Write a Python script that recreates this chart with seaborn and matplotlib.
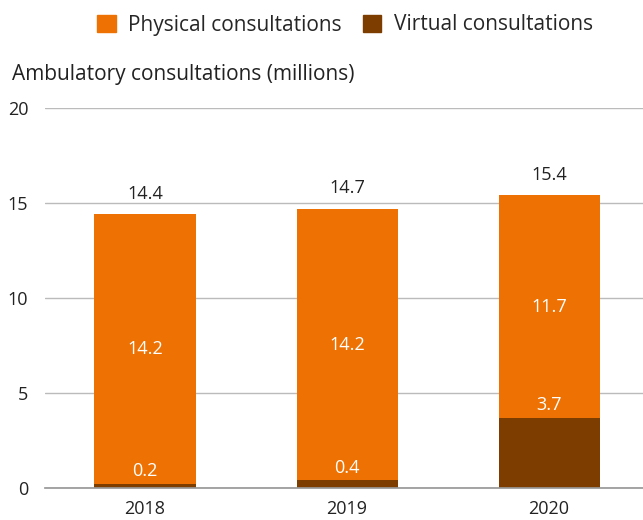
import pandas as pd
import seaborn as sns
import matplotlib.pyplot as plt
from matplotlib.patches import Patch

years = ["2018", "2019", "2020"]
virtual = [0.2, 0.4, 3.7]
physical = [14.2, 14.2, 11.7]
totals = [14.4, 14.7, 15.4]

orange = "#ee7203"
brown = "#7d3c00"

sns.set_theme(style="white")
plt.rcParams["font.family"] = ["Open Sans", "DejaVu Sans"]

df = pd.DataFrame({"year": years, "virtual": virtual, "physical": physical, "total": totals})

fig = plt.figure(figsize=(6.43, 5.2), dpi=100)
ax = fig.add_axes([45 / 643, 32 / 520, 598 / 643, 380 / 520])

sns.barplot(data=df, x="year", y="total", color=orange, width=0.5, saturation=1,
            linewidth=0, ax=ax)
sns.barplot(data=df, x="year", y="virtual", color=brown, width=0.5, saturation=1,
            linewidth=0, ax=ax)

for i, row in df.iterrows():
    ax.text(i, row["total"] + 0.6, f"{row['total']:.1f}", ha="center", va="bottom",
            fontsize=13, color="#222222")
    ax.text(i, row["virtual"] + row["physical"] / 2, f"{row['physical']:.1f}",
            ha="center", va="center", fontsize=13, color="white")
    ax.text(i, row["virtual"] + 0.2, f"{row['virtual']:.1f}", ha="center", va="bottom",
            fontsize=13, color="white")

ax.set_ylim(0, 20)
ax.set_xlim(-0.495, 2.465)
ax.set_yticks([0, 5, 10, 15, 20])
ax.yaxis.grid(True, color="#bbbbbb", linewidth=1)
ax.set_axisbelow(True)
sns.despine(ax=ax, left=True)
ax.spines["bottom"].set_color("#999999")
ax.tick_params(axis="both", length=0, labelsize=13, colors="#222222")
ax.tick_params(axis="y", pad=12)
ax.tick_params(axis="x", pad=9)
ax.set_xlabel("")
ax.set_ylabel("")

fig.text(12 / 643, 1 - 75 / 520, "Ambulatory consultations (millions)", fontsize=15,
         color="#222222", va="center")

handles = [Patch(color=orange, label="Physical consultations"),
           Patch(color=brown, label="Virtual consultations")]
fig.legend(handles=handles, loc="center", bbox_to_anchor=(345 / 643, 1 - 25 / 520), ncol=2,
           frameon=False, fontsize=15, handlelength=0.9, handleheight=0.9, handletextpad=0.6,
           columnspacing=1.0)

fig.savefig("out.png", dpi=100)
